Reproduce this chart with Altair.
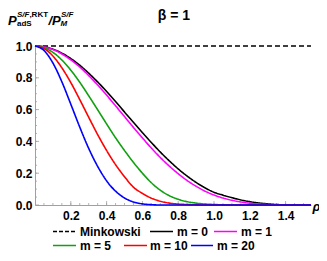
import altair as alt
import pandas as pd

# ---- data ----
rho = [0.00, 0.05, 0.10, 0.15, 0.20, 0.25, 0.30, 0.35, 0.40, 0.45, 0.50, 0.55,
       0.60, 0.65, 0.70, 0.75, 0.80, 0.85, 0.90, 0.95, 1.00, 1.05, 1.10, 1.15,
       1.20, 1.30, 1.40, 1.50, 1.542]
minkowski = [1.0, 1.0, 1.0, 1.0, 1.0, 1.0, 1.0, 1.0, 1.0, 1.0, 1.0, 1.0, 1.0, 1.0,
             1.0, 1.0, 1.0, 1.0, 1.0, 1.0, 1.0, 1.0, 1.0, 1.0, 1.0, 1.0, 1.0, 1.0, 1.0]
m0 = [1.000, 0.995, 0.980, 0.955, 0.921, 0.879, 0.829, 0.774, 0.714, 0.651, 0.585, 0.520,
      0.455, 0.393, 0.333, 0.278, 0.227, 0.182, 0.142, 0.108, 0.080, 0.062, 0.046, 0.032,
      0.021, 0.007, 0.001, 0.000, 0.000]
m1 = [1.000, 0.994, 0.978, 0.950, 0.913, 0.868, 0.814, 0.755, 0.691, 0.624, 0.556, 0.488,
      0.422, 0.358, 0.299, 0.245, 0.197, 0.154, 0.118, 0.087, 0.063, 0.044, 0.030, 0.019,
      0.011, 0.003, 0.000, 0.000, 0.000]
m5 = [1.000, 0.990, 0.960, 0.912, 0.848, 0.772, 0.687, 0.599, 0.510, 0.423, 0.343, 0.268,
      0.200, 0.140, 0.093, 0.059, 0.036, 0.021, 0.012, 0.006, 0.003, 0.001, 0.000, 0.000,
      0.000, 0.000, 0.000, 0.000, 0.000]
m10 = [1.000, 0.984, 0.937, 0.863, 0.770, 0.663, 0.552, 0.443, 0.343, 0.254, 0.178, 0.112,
       0.073, 0.043, 0.024, 0.012, 0.006, 0.003, 0.001, 0.000, 0.000, 0.000, 0.000, 0.000,
       0.000, 0.000, 0.000, 0.000, 0.000]
m20 = [1.000, 0.972, 0.893, 0.775, 0.634, 0.490, 0.356, 0.243, 0.152, 0.087, 0.044, 0.019,
       0.007, 0.002, 0.000, 0.000, 0.000, 0.000, 0.000, 0.000, 0.000, 0.000, 0.000, 0.000,
       0.000, 0.000, 0.000, 0.000, 0.000]

series_names = ["Minkowski", "m = 0", "m = 1", "m = 5", "m = 10", "m = 20"]
series_values = [minkowski, m0, m1, m5, m10, m20]
series_colors = ["#000000", "#000000", "#ff00ff", "#10a010", "#ff0000", "#0000ff"]

x_major = [0.2, 0.4, 0.6, 0.8, 1.0, 1.2, 1.4]
x_minor = [round(0.05 * i, 2) for i in range(1, 31)]
y_major = [0.0, 0.2, 0.4, 0.6, 0.8, 1.0]
y_minor = [round(0.05 * i, 2) for i in range(1, 20)]

# ---- layout ----
W, H = 276, 159
FONT = "Liberation Sans"
AXIS_GRAY = "#a0a0a0"

rows = []
for name, vals in zip(series_names, series_values):
    for r, v in zip(rho, vals):
        rows.append({"rho": r, "value": v, "series": name})
df = pd.DataFrame(rows)

xscale = alt.Scale(domain=[0, 1.542], nice=False, zero=False)
yscale = alt.Scale(domain=[0, 1.0], nice=False)
xaxis = alt.Axis(values=x_major, format=".1f", title=None, grid=False,
                 ticks=False, tickSize=0, domainColor=AXIS_GRAY,
                 labelFont=FONT, labelFontSize=12, labelFontWeight="bold",
                 labelColor="#000000", labelPadding=5)
yaxis = alt.Axis(values=y_major, format=".1f", title=None, grid=False,
                 ticks=False, tickSize=0, domainColor=AXIS_GRAY,
                 labelFont=FONT, labelFontSize=12, labelFontWeight="bold",
                 labelColor="#000000", labelPadding=3)

lines = alt.Chart(df).mark_line(strokeWidth=1.6, interpolate="monotone").encode(
    x=alt.X("rho:Q", scale=xscale, axis=xaxis),
    y=alt.Y("value:Q", scale=yscale, axis=yaxis),
    color=alt.Color("series:N", scale=alt.Scale(domain=series_names, range=series_colors),
                    legend=None),
    strokeDash=alt.StrokeDash("series:N",
                              scale=alt.Scale(domain=series_names,
                                              range=[[5, 3], [1, 0], [1, 0], [1, 0], [1, 0], [1, 0]]),
                              legend=None),
    detail="series:N",
)

# inward tick marks
def xticks(vals, length):
    return alt.Chart(pd.DataFrame({"rho": vals})).mark_rule(color=AXIS_GRAY, strokeWidth=0.8).encode(
        x=alt.X("rho:Q", scale=xscale, axis=xaxis),
        y=alt.value(H), y2=alt.value(H - length))

def yticks(vals, length):
    return alt.Chart(pd.DataFrame({"value": vals})).mark_rule(color=AXIS_GRAY, strokeWidth=0.8).encode(
        y=alt.Y("value:Q", scale=yscale, axis=yaxis),
        x=alt.value(0), x2=alt.value(length))

ticks = [xticks(x_minor, 2), xticks(x_major, 4), yticks(y_minor, 2), yticks(y_major, 4)]

one = pd.DataFrame({"a": [0]})

def txt(s, x, y, size, italic=False, align="left"):
    return alt.Chart(one).mark_text(text=s, align=align, baseline="alphabetic", font=FONT,
                                    fontSize=size, fontWeight="bold",
                                    fontStyle="italic" if italic else "normal",
                                    color="#000000").encode(x=alt.value(x), y=alt.value(y))

texts = [
    txt("β = 1", 139, -26, 14, align="center"),
    txt("P", -27, -21, 13, italic=True),
    txt("S/F", -18, -29, 8, italic=True),
    txt(",RKT", -5.6, -29, 8),
    txt("adS", -18, -20, 8),
    txt("/P", 13.5, -21, 13, italic=True),
    txt("S/F", 26, -29, 8, italic=True),
    txt("M", 25.5, -20, 8, italic=True),
    txt("ρ", 277.5, 165, 13, italic=True),
]

# legend
legend_layout = [  # (symbol x0, symbol x1, text x, baseline y)
    (18, 41, 45, 190),
    (115, 138, 142, 190),
    (179, 202, 206, 190),
    (18, 41, 45, 204),
    (89, 112, 115, 204),
    (156, 178, 182, 204),
]
legend_layers = []
for name, col, (sx0, sx1, tx, ty) in zip(series_names, series_colors, legend_layout):
    dash = [4, 2] if name == "Minkowski" else [1, 0]
    legend_layers.append(
        alt.Chart(one).mark_rule(color=col, strokeWidth=1.6, strokeDash=dash).encode(
            x=alt.value(sx0), x2=alt.value(sx1), y=alt.value(ty - 4.5)))
    legend_layers.append(txt(name, tx, ty, 12))

chart = alt.layer(*ticks, lines, *texts, *legend_layers).properties(
    width=W, height=H,
    padding={"left": 27, "top": 38, "right": 8, "bottom": 48},
    autosize=alt.AutoSizeParams(type="none"),
).configure_view(stroke=None)

chart.save("out.html", embed_options={"renderer": "svg", "actions": False})
